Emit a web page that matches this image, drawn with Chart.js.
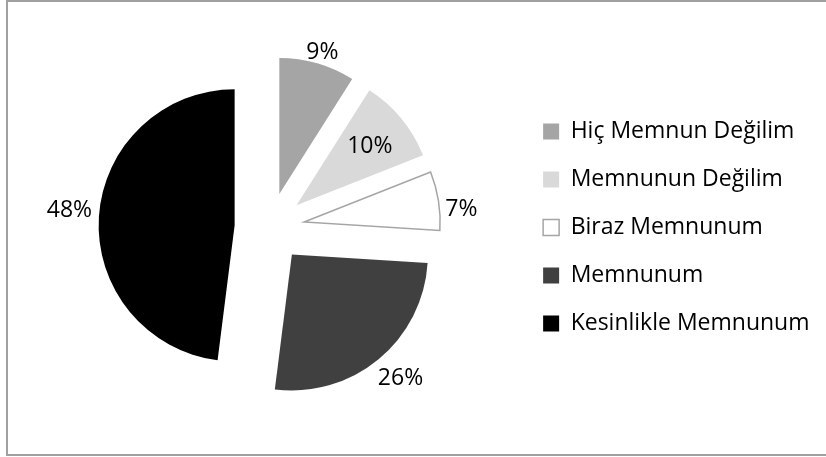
<!DOCTYPE html>
<html>
<head>
<meta charset="utf-8">
<script src="https://cdn.jsdelivr.net/npm/chart.js@4.4.1/dist/chart.umd.min.js"></script>
<style>
    html, body { margin: 0; padding: 0; background: #fff; overflow: hidden; }
    #frame {
        position: absolute; left: 6px; top: 0; width: 840px; height: 456px;
        border: 2px solid #a0a0a0; box-sizing: border-box; border-right: none;
    }
    #satisfactionChart { position: absolute; left: 0; top: 0; }
</style>
</head>
<body>
<div id="frame"></div>
<canvas id="satisfactionChart" width="826" height="457"></canvas>
<script>
// ── Data ────────────────────────────────────────────────────────────────
const answerLabels = ['Hiç Memnun Değilim', 'Memnunun Değilim', 'Biraz Memnunum', 'Memnunum', 'Kesinlikle Memnunum'];
const answerShares = [9, 10, 7, 26, 48];

// ── Style ───────────────────────────────────────────────────────────────
const sliceColors = ['#a5a5a5', '#d9d9d9', '#ffffff', '#404040', '#000000'];
const sliceBorders = ['#a5a5a5', '#d9d9d9', '#a5a5a5', '#404040', '#000000'];
const sliceBorderWidths = [0, 0, 1.5, 0, 0];
const EXPLODE = 35;                                   // px each slice is pulled out
const labelDist = [1.09, 0.69, 1.16, 1.21, 1.22];    // label distance, in radii, from slice tip
const labelTurn = [0.7, 1, 4.6, -1.7, 1.6];          // small angular nudge, degrees
const FONT = '"Open Sans", "Noto Sans", sans-serif';

// exploded pie: every slice moved out along its middle angle by the same amount
const ArcEl = (Chart.elements && Chart.elements.ArcElement) || Chart.ArcElement;
const baseArcDraw = ArcEl.prototype.draw;
ArcEl.prototype.draw = function (ctx) {
    const mid = (this.startAngle + this.endAngle) / 2;
    ctx.save();
    ctx.translate(Math.cos(mid) * EXPLODE, Math.sin(mid) * EXPLODE);
    baseArcDraw.call(this, ctx);
    ctx.restore();
};

// percentage labels next to / inside the slices
const pieLabels = {
    id: 'pieLabels',
    afterDatasetsDraw(chart) {
        const ctx = chart.ctx;
        const meta = chart.getDatasetMeta(0);
        const total = answerShares.reduce((a, b) => a + b, 0);
        ctx.save();
        ctx.font = '23px ' + FONT;
        ctx.fillStyle = '#000';
        ctx.textAlign = 'center';
        ctx.textBaseline = 'middle';
        meta.data.forEach((arc, i) => {
            const mid = (arc.startAngle + arc.endAngle) / 2;
            const tipX = arc.x + Math.cos(mid) * EXPLODE;
            const tipY = arc.y + Math.sin(mid) * EXPLODE;
            const a = mid + labelTurn[i] * Math.PI / 180;
            const d = arc.outerRadius * labelDist[i];
            const pct = Math.round(answerShares[i] / total * 100) + '%';
            ctx.fillText(pct, tipX + Math.cos(a) * d, tipY + Math.sin(a) * d);
        });
        ctx.restore();
    }
};

new Chart(document.getElementById('satisfactionChart'), {
    type: 'pie',
    data: {
        labels: answerLabels,
        datasets: [{
            data: answerShares,
            backgroundColor: sliceColors,
            borderColor: sliceBorders,
            borderWidth: sliceBorderWidths,
            borderJoinStyle: 'miter',
        }]
    },
    options: {
        responsive: false,
        animation: false,
        devicePixelRatio: 1,
        layout: { padding: { left: 21, right: 6.5, top: 90.75, bottom: 92.75 } },
        plugins: {
            tooltip: { enabled: false },
            legend: {
                position: 'right',
                labels: {
                    boxWidth: 16,
                    boxHeight: 16,
                    padding: 25,
                    color: '#000',
                    font: { family: FONT, size: 23 }
                }
            }
        }
    },
    plugins: [pieLabels]
});
</script>
</body>
</html>
